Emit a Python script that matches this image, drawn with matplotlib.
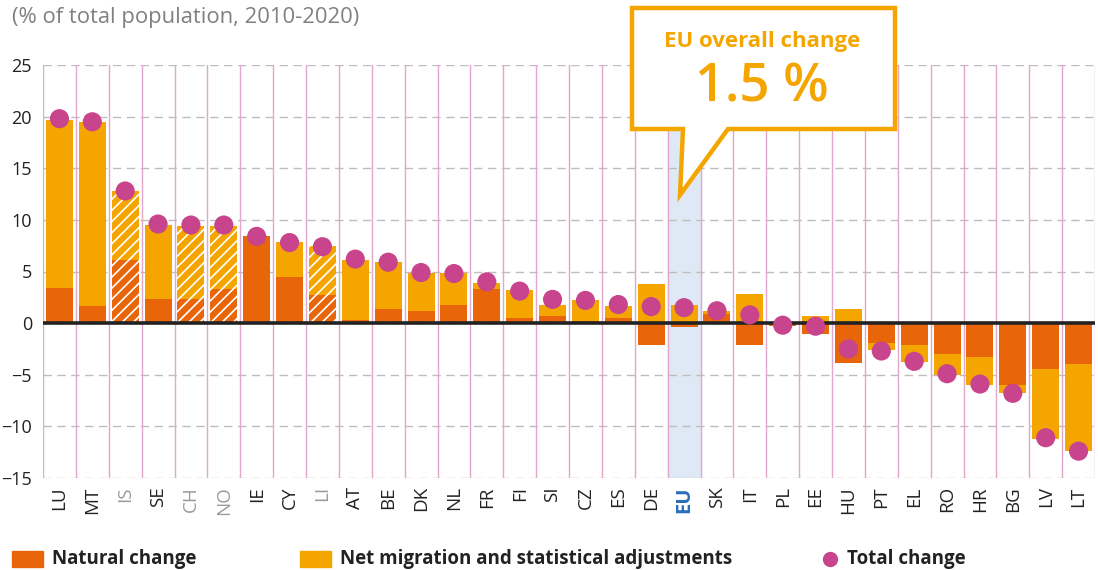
import numpy as np
import matplotlib
matplotlib.use("Agg")
import matplotlib.pyplot as plt
from matplotlib.patches import Polygon, Rectangle

plt.rcParams['font.family'] = ['Open Sans', 'DejaVu Sans']
plt.rcParams['hatch.linewidth'] = 1.2

# data (% of total population, 2010-2020)
countries = ['LU', 'MT', 'IS', 'SE', 'CH', 'NO', 'IE', 'CY', 'LI', 'AT', 'BE', 'DK',
             'NL', 'FR', 'FI', 'SI', 'CZ', 'ES', 'DE', 'EU', 'SK', 'IT', 'PL', 'EE',
             'HU', 'PT', 'EL', 'RO', 'HR', 'BG', 'LV', 'LT']
natural = [3.4, 1.65, 6.1, 2.3, 2.3, 3.3, 8.4, 4.45, 2.7, 0.3, 1.35, 1.15,
           1.75, 3.3, 0.5, 0.65, 0.25, 0.45, -2.15, -0.4, 0.85, -2.15, -0.3, -1.1,
           -3.9, -1.95, -2.15, -2.95, -3.3, -6.0, -4.45, -4.0]
net_migration = [16.25, 17.8, 6.7, 7.2, 7.15, 6.15, 0.0, 3.4, 4.75, 5.8, 4.55, 3.7,
                 3.1, 0.55, 2.7, 1.1, 1.95, 1.2, 3.75, 1.8, 0.35, 2.8, 0.1, 0.65,
                 1.35, -0.65, -1.65, -2.05, -2.7, -0.8, -6.75, -8.4]
total = [19.8, 19.5, 12.8, 9.6, 9.5, 9.5, 8.4, 7.8, 7.4, 6.2, 5.9, 4.9,
         4.8, 4.0, 3.1, 2.3, 2.2, 1.8, 1.6, 1.5, 1.2, 0.8, -0.2, -0.3,
         -2.5, -2.7, -3.7, -4.9, -5.9, -6.8, -11.1, -12.4]
non_eu = ['IS', 'CH', 'NO', 'LI']
eu_total = 1.5

C_NAT = '#e8650a'
C_NET = '#f5a500'
C_DOT = '#c8448c'
C_GRID = '#e2a8cc'

W, H = 1098, 570
fig = plt.figure(figsize=(W / 100, H / 100), dpi=100)
ax = fig.add_axes([43 / W, 1 - 478 / H, (1095 - 43) / W, (478 - 65) / H])

x = np.arange(len(countries))
natural = np.array(natural)
net_migration = np.array(net_migration)
net_bottom = np.where(net_migration >= 0, np.maximum(natural, 0), np.minimum(natural, 0))
hatches = ['///' if c in non_eu else None for c in countries]

# EU column highlight
eu_i = countries.index('EU')
ax.axvspan(eu_i - 0.5, eu_i + 0.5, color='#dfe9f6', zorder=0)

# grid
for v in range(-15, 30, 5):
    ax.axhline(v, color='#bdbdbd', lw=1, dashes=(6, 4), zorder=1)
for i in range(len(countries) + 1):
    ax.axvline(i - 0.5, color=C_GRID, lw=1, zorder=1)

bars_nat = ax.bar(x, natural, width=0.82, color=C_NAT, edgecolor='white', lw=0, zorder=2)
bars_net = ax.bar(x, net_migration, width=0.82, bottom=net_bottom, color=C_NET,
                  edgecolor='white', lw=0, zorder=2)
for b1, b2, h in zip(bars_nat, bars_net, hatches):
    if h:
        b1.set_hatch(h)
        b2.set_hatch(h)

ax.axhline(0, color='#222222', lw=2.6, zorder=3)
ax.scatter(x, total, s=190, color=C_DOT, edgecolor='none', zorder=4)

ax.set_xlim(-0.5, len(countries) - 0.5)
ax.set_ylim(-15, 25)
ax.set_yticks(range(-15, 30, 5))
ax.tick_params(axis='y', length=0, labelsize=13, pad=8, labelcolor='#222222')
ax.set_xticks(x)
ax.set_xticklabels(countries, rotation=90, fontsize=13.5)
ax.tick_params(axis='x', length=0, pad=6)
for lbl in ax.get_xticklabels():
    t = lbl.get_text()
    if t in non_eu:
        lbl.set_color('#9a9a9a')
    elif t == 'EU':
        lbl.set_color('#2a6ebb')
        lbl.set_fontweight('bold')
        lbl.set_fontsize(14.5)
    else:
        lbl.set_color('#222222')
for s in ax.spines.values():
    s.set_visible(False)

fig.text(12 / W, 1 - 18 / H, '(% of total population, 2010-2020)', fontsize=15.8,
         color='#808080', va='center', ha='left')

# callout box
def px(xp, yp):
    return (xp / W, 1 - yp / H)

pts = [px(632, 8), px(895, 8), px(895, 129), px(728, 129), px(680, 195),
       px(683, 129), px(632, 129)]
fig.patches.append(Polygon(pts, closed=True, transform=fig.transFigure,
                           facecolor='white', edgecolor=C_NET, lw=3.2, zorder=10))
fig.text(762 / W, 1 - 42 / H, 'EU overall change', fontsize=16, fontweight='bold',
         color=C_NET, ha='center', va='center', zorder=11)
fig.text(762 / W, 1 - 88 / H, f'{eu_total} %', fontsize=38, fontweight='semibold',
         color=C_NET, ha='center', va='center', zorder=11)

# legend
fig.patches.append(Rectangle(px(12, 567), 31 / W, 16 / H, transform=fig.transFigure,
                             color=C_NAT))
fig.text(52 / W, 1 - 559 / H, 'Natural change', fontsize=13.5, fontweight='bold',
         color='#222222', va='center')
fig.patches.append(Rectangle(px(300, 567), 31 / W, 16 / H, transform=fig.transFigure,
                             color=C_NET))
fig.text(340 / W, 1 - 559 / H, 'Net migration and statistical adjustments', fontsize=13.5,
         fontweight='bold', color='#222222', va='center')
ax.plot([830 / W], [1 - 559 / H], 'o', ms=11, color=C_DOT, mec='none',
        transform=fig.transFigure, clip_on=False)
fig.text(847 / W, 1 - 559 / H, 'Total change', fontsize=13.5, fontweight='bold',
         color='#222222', va='center')

fig.savefig('out.png', dpi=100)
